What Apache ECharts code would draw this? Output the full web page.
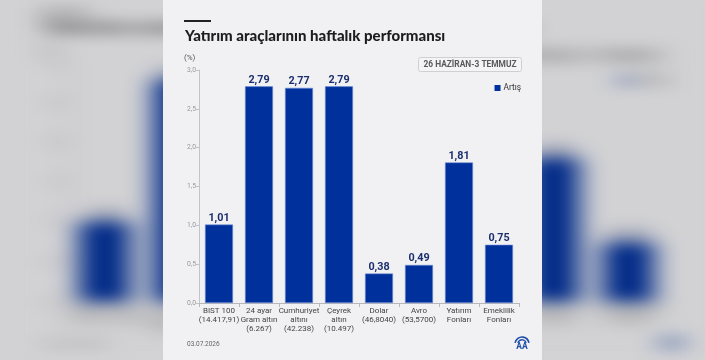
<!DOCTYPE html>
<html><head><meta charset="utf-8">
<script src="https://cdn.jsdelivr.net/npm/echarts@6/dist/echarts.min.js"></script>
<style>
html,body{margin:0;padding:0;width:705px;height:360px;overflow:hidden;background:#d2d2d4;}
#bg{position:absolute;left:0;top:0;width:379px;height:360px;transform-origin:0 0;transform:translate(0px,-10px) scale(1.87,1.03);filter:blur(7px) brightness(0.87);background:#f1f1f4;}
#panel{position:absolute;left:163px;top:0;width:379px;height:360px;background:#f1f1f4;}
</style></head><body>
<div id="bg"></div><div id="panel"></div>
<script>
const titleText = 'Yatırım araçlarının haftalık performansı';
const periodText = '26 HAZİRAN-3 TEMMUZ';
const dateText = '03.07.2026';
const unitText = '(%)';
const seriesName = 'Artış';
const categories = [
  'BIST 100\n(14.417,91)',
  '24 ayar\nGram altın\n(6.267)',
  'Cumhuriyet\naltını\n(42.238)',
  'Çeyrek\naltın\n(10.497)',
  'Dolar\n(46,8040)',
  'Avro\n(53,5700)',
  'Yatırım\nFonları',
  'Emeklilik\nFonları'
];
const values = [1.01, 2.79, 2.77, 2.79, 0.38, 0.49, 1.81, 0.75];
const yMin = 0, yMax = 3, yInterval = 0.5;

function buildOption() {
  const F = 'Roboto, "Noto Sans", sans-serif';
  return {
    animation: false,
    grid: { left: 36, right: 23, top: 70, bottom: 57, containLabel: false },
    legend: {
      data: [seriesName], right: 16, top: 79, itemWidth: 6, itemHeight: 6, itemGap: 4,
      icon: 'rect', itemStyle: { borderWidth: 0, color: '#00309b' },
      textStyle: { fontFamily: F, fontSize: 8.3, color: '#333', padding: [0,0,0,-2] }
    },
    xAxis: {
      type: 'category', data: categories,
      axisLine: { show: true, lineStyle: { color: '#b8b8bc', width: 1 } },
      axisTick: { show: true, length: 4, lineStyle: { color: '#b8b8bc' } },
      axisLabel: { interval: 0, fontFamily: F, fontSize: 8, lineHeight: 8.6, color: '#444', margin: 4 }
    },
    yAxis: {
      type: 'value', min: yMin, max: yMax, interval: yInterval,
      axisLine: { show: true, lineStyle: { color: '#c4c4c8', width: 1 } },
      axisTick: { show: true, length: 3, lineStyle: { color: '#c4c4c8' } },
      splitLine: { show: false },
      axisLabel: { fontFamily: F, fontSize: 6.8, color: '#9a9a9e', margin: 3,
        formatter: v => v.toFixed(1).replace('.', ',') }
    },
    series: [{
      name: seriesName, type: 'bar', data: values, barWidth: 28,
      itemStyle: { color: '#00309b', borderColor: '#6d8fd6', borderWidth: 0.6 },
      label: { show: true, position: 'top', distance: 1, fontFamily: F, fontWeight: 'bold',
        fontSize: 10.8, color: '#1c2f6d', formatter: p => p.value.toFixed(2).replace('.', ',') }
    }],
    graphic: [
      { type: 'rect', shape: { x: 21, y: 20, width: 27, height: 2 }, style: { fill: '#222' } },
      { type: 'text', x: 22, y: 36, style: { text: titleText, fontFamily: 'Lato, sans-serif', fontWeight: 900,
          fontSize: 15, fill: '#1d1d1f', textVerticalAlign: 'middle' } },
      { type: 'text', x: 21, y: 58, style: { text: unitText, fontFamily: F, fontSize: 8, fill: '#555', textVerticalAlign: 'middle' } },
      { type: 'rect', shape: { x: 255.5, y: 57.5, width: 103, height: 14, r: 2 },
        style: { fill: '#f4f4f6', stroke: '#cfcfd3', lineWidth: 1 } },
      { type: 'text', x: 307, y: 64.5, style: { text: periodText, fontFamily: F, fontWeight: 'bold', fontSize: 8.4,
          fill: '#5a5a5e', textAlign: 'center', textVerticalAlign: 'middle' } },
      { type: 'text', x: 24, y: 344, style: { text: dateText, fontFamily: F, fontSize: 6.5, fill: '#666', textVerticalAlign: 'middle' } },
      { type: 'group', x: 359, y: 344, children: [
        { type: 'arc', shape: { cx: 0, cy: 0, r: 7, startAngle: Math.PI * 1.05, endAngle: Math.PI * 1.95 },
          style: { stroke: '#1f4fa8', lineWidth: 1.6, fill: 'none' } },
        { type: 'arc', shape: { cx: 0, cy: 0, r: 4.3, startAngle: Math.PI * 1.08, endAngle: Math.PI * 1.92 },
          style: { stroke: '#1f4fa8', lineWidth: 1.4, fill: 'none' } },
        { type: 'text', x: 0, y: 2.5, style: { text: 'AA', fontFamily: F, fontWeight: 'bold', fontSize: 8.5,
            fill: '#1f4fa8', textAlign: 'center', textVerticalAlign: 'middle' } }
      ]}
    ]
  };
}
const bg = echarts.init(document.getElementById('bg'), null, { renderer: 'canvas' });
bg.setOption(buildOption());
const chart = echarts.init(document.getElementById('panel'), null, { renderer: 'canvas' });
chart.setOption(buildOption());
</script>
</body></html>
